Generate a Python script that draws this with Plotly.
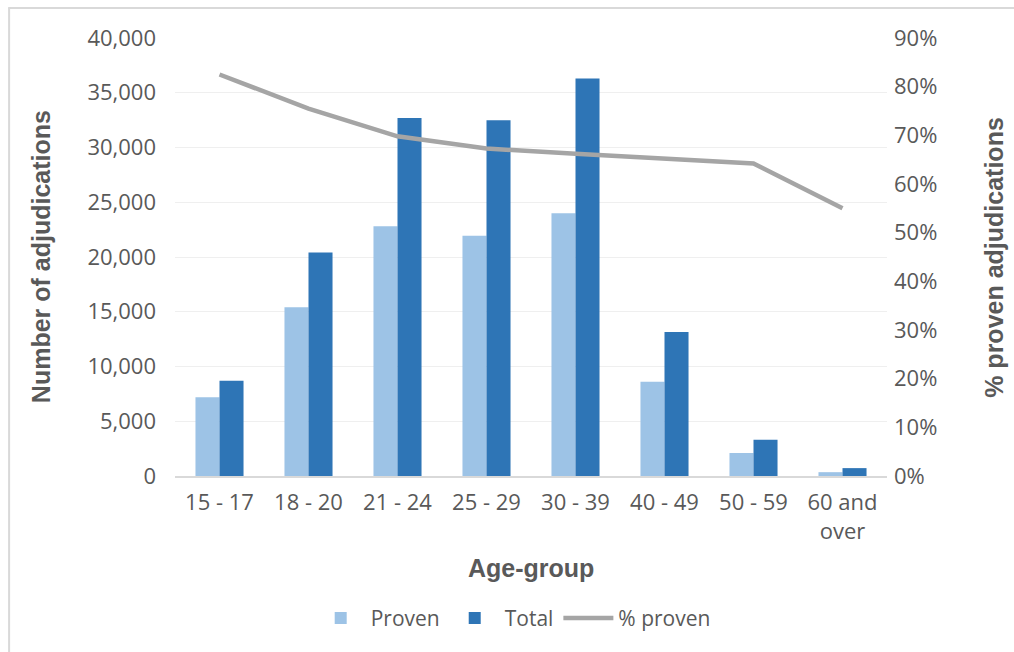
import plotly.graph_objects as go

age_groups = ["15 - 17", "18 - 20", "21 - 24", "25 - 29", "30 - 39", "40 - 49", "50 - 59", "60 and<br>over"]
proven = [7200, 15400, 22800, 21950, 24000, 8600, 2100, 350]
total = [8700, 20400, 32700, 32500, 36300, 13150, 3300, 720]
pct_proven = [0.825, 0.755, 0.698, 0.673, 0.662, 0.653, 0.642, 0.550]

y_ticks = [0, 5000, 10000, 15000, 20000, 25000, 30000, 35000, 40000]
y2_ticks = [0, 0.1, 0.2, 0.3, 0.4, 0.5, 0.6, 0.7, 0.8, 0.9]

GRAY = "#595959"
TICKFONT = dict(family="Open Sans", size=22, color=GRAY)
TITLEFONT = dict(family="Liberation Sans", size=25, color=GRAY)

fig = go.Figure()
fig.add_trace(go.Bar(x=age_groups, y=proven, name="Proven", marker=dict(color="#9DC3E6", line=dict(width=0))))
fig.add_trace(go.Bar(x=age_groups, y=total, name="Total", marker=dict(color="#2E75B6", line=dict(width=0))))
fig.add_trace(go.Scatter(x=age_groups, y=pct_proven, name="% proven", yaxis="y2", mode="lines",
                         line=dict(color="#A5A5A5", width=4.5)))

fig.update_layout(
    width=1014, height=652,
    margin=dict(l=175, r=127, t=38, b=176, autoexpand=False),
    paper_bgcolor="white", plot_bgcolor="white",
    barmode="group", bargap=0.46, bargroupgap=0,
    showlegend=True,
    legend=dict(orientation="h", x=0.475, xanchor="center", y=-0.325, yanchor="middle",
                font=dict(family="Open Sans", size=21, color=GRAY), traceorder="normal",
                itemwidth=50),
    xaxis=dict(showgrid=False, showline=True, linecolor="#D9D9D9", linewidth=1.5,
               tickfont=TICKFONT, ticks="", ticklabelstandoff=6),
    yaxis=dict(range=[0, 40000], tickvals=y_ticks, tickformat=",", showgrid=True,
               gridcolor="#EFEFEF", gridwidth=1, zeroline=False, showline=False,
               tickfont=TICKFONT, ticklabelstandoff=18),
    yaxis2=dict(range=[0, 0.9], tickvals=y2_ticks, tickformat=".0%", overlaying="y", side="right",
                showgrid=False, zeroline=False, showline=False, tickfont=TICKFONT,
                ticklabelstandoff=6),
    annotations=[
        dict(text="<b>Number of adjudications</b>", xref="paper", yref="paper", x=-0.188, y=0.5,
             xanchor="center", yanchor="middle", textangle=-90, showarrow=False, font=TITLEFONT),
        dict(text="<b>% proven adjudications</b>", xref="paper", yref="paper", x=1.15, y=0.5,
             xanchor="center", yanchor="middle", textangle=-90, showarrow=False, font=TITLEFONT),
        dict(text="<b>Age-group</b>", xref="paper", yref="paper", x=0.5, y=-0.21,
             xanchor="center", yanchor="middle", showarrow=False, font=TITLEFONT),
    ],
    shapes=[
        dict(type="line", xref="paper", yref="paper", x0=-0.234, x1=1.2, y0=1.0685, y1=1.0685,
             line=dict(color="#D9D9D9", width=2)),
        dict(type="line", xref="paper", yref="paper", x0=-0.233, x1=-0.233, y0=1.07, y1=-0.45,
             line=dict(color="#D9D9D9", width=2)),
    ],
)

fig.write_html("out.html", config={"displayModeBar": False},
               post_script="document.body.style.margin='0px';")
